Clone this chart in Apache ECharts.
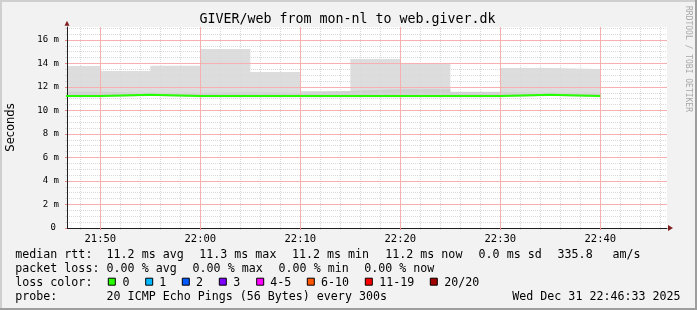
<!DOCTYPE html>
<html><head><meta charset="utf-8">
<script src="https://cdn.jsdelivr.net/npm/echarts@6/dist/echarts.min.js"></script>
<style>html,body{margin:0;padding:0;background:#f2f2f2}#c{width:697px;height:310px}</style>
</head><body><div id="c"></div>
<script>
// ---- data ----
const slotStarts = ['21:45','21:50','21:55','22:00','22:05','22:10','22:15','22:20','22:25','22:30','22:35'];
const slotEnd = '22:40';
const medianRtt = [11.22, 11.34, 11.22, 11.22, 11.22, 11.22, 11.22, 11.22, 11.22, 11.34, 11.22];
const smokeMin  = [11.12, 11.22, 11.12, 11.12, 11.12, 11.12, 11.12, 11.12, 11.12, 11.22, 11.12];
const smokeMid  = [11.60, 11.50, 11.50, 11.55, 11.50, 11.66, 11.83, 11.83, 11.58, 11.50, 11.50];
const smokeMax  = [13.79, 13.36, 13.80, 15.23, 13.28, 11.66, 14.38, 14.04, 11.60, 13.62, 13.53];
const viewStart = '21:46:40';
const viewEnd = '22:46:40';
const xTickLabels = ['21:50','22:00','22:10','22:20','22:30','22:40'];
const yMax = 17.1;
const title = 'GIVER/web from mon-nl to web.giver.dk';
const rttStats = ['11.2 ms avg','11.3 ms max','11.2 ms min','11.2 ms now','0.0 ms sd','335.8','am/s'];
const lossStats = ['0.00 % avg','0.00 % max','0.00 % min','0.00 % now'];
const lossLabels = ['0','1','2','3','4-5','6-10','11-19','20/20'];
const lossColors = ['#26ff00','#00b8ff','#0059ff','#7e00ff','#ff00ff','#ff5500','#ff0000','#a10000'];
const probeText = '20 ICMP Echo Pings (56 Bytes) every 300s';
const dateText = 'Wed Dec 31 22:46:33 2025';

// ---- helpers ----
function toMin(s){const p=s.split(':').map(Number);return p[0]*60+p[1]+(p[2]||0)/60;}
function fmt(v){const m=Math.round(v);const h=Math.floor(m/60),mm=m%60;return (h<10?'0':'')+h+':'+(mm<10?'0':'')+mm;}
function stepData(vals){const d=slotStarts.map((t,i)=>[toMin(t),vals[i]]);d.push([toMin(slotEnd),vals[vals.length-1]]);return d;}
const xMin=toMin(viewStart), xMax=toMin(viewEnd);
const majorX = xTickLabels.map(toMin);
const minorX = [];
for(let m=Math.ceil(xMin/2)*2;m<=xMax;m+=2){ if(m%10!==0) minorX.push(m); }
const majorY=[], minorY=[];
for(let k=0;k*0.5<yMax;k++){ const v=k*0.5; if(k%4===0) majorY.push(v); else minorY.push(v); }

const MONO='DejaVu Sans Mono';
const gridCol='#d9d9d9', mgridCol='#f6b0b0', mtickCol='#ee8888';
const chart=echarts.init(document.getElementById('c'));

const graphics=[];
// frame shading
graphics.push({type:'rect',shape:{x:0,y:0,width:697,height:2},style:{fill:'#cfcfcf'},silent:true});
graphics.push({type:'rect',shape:{x:0,y:0,width:2,height:310},style:{fill:'#cfcfcf'},silent:true});
graphics.push({type:'rect',shape:{x:695,y:0,width:2,height:310},style:{fill:'#9e9e9e'},silent:true});
graphics.push({type:'rect',shape:{x:0,y:308,width:697,height:2},style:{fill:'#9e9e9e'},silent:true});
graphics.push({type:'text',x:347.5,y:20,style:{text:title,font:'13.3px "DejaVu Sans Mono"',fill:'#000',align:'center',verticalAlign:'middle'}});
graphics.push({type:'text',x:688,y:59,rotation:-Math.PI/2,style:{text:'RRDTOOL / TOBI OETIKER',font:'8px "DejaVu Sans Mono"',fill:'#a8a8a8',align:'center',verticalAlign:'middle'}});
const LF='11.65px "DejaVu Sans Mono"';
function txt(s,x,y,align){graphics.push({type:'text',x:x,y:y,style:{text:s,font:LF,fill:'#000',align:align||'left',verticalAlign:'middle'}});}
const rowY=[255,268.8,282.7,296.5];
txt('median rtt:',15.3,rowY[0]);
const rttX=[106.6,199.3,292,385.3,478.6,557.6,612.6];
rttStats.forEach((s,i)=>txt(s,rttX[i],rowY[0]));
txt('packet loss:',15.3,rowY[1]);
const lossX=[106.6,192.6,278.6,364.3];
lossStats.forEach((s,i)=>txt(s,lossX[i],rowY[1]));
txt('loss color:',15.3,rowY[2]);
const sqX=[108.3,145.7,182.3,219.3,256.7,307.3,365.3,430.3];
const lblX=[122.6,159.3,196,233.3,270.3,321,379.3,444.3];
lossLabels.forEach((s,i)=>{
  graphics.push({type:'rect',shape:{x:sqX[i],y:278.2,width:7,height:7},style:{fill:lossColors[i],stroke:'#000',lineWidth:1}});
  txt(s,lblX[i],rowY[2]);
});
txt('probe:',15.3,rowY[3]);
txt(probeText,106.6,rowY[3]);
txt(dateText,680.5,rowY[3],'right');

const smokeCommon={type:'line',step:'end',symbol:'none',showSymbol:false,lineStyle:{width:0,opacity:0},z:1,silent:true,xAxisIndex:0,yAxisIndex:0};

chart.setOption({
  animation:false,
  backgroundColor:'#f2f2f2',
  grid:{left:67,top:27,width:600,height:201,show:true,backgroundColor:'#ffffff',borderWidth:0,containLabel:false,outerBoundsMode:'none'},
  xAxis:[
    {type:'value',min:xMin,max:xMax,z:3,position:'bottom',
     axisLine:{show:true,lineStyle:{color:'#1f1f1f',width:1}},
     axisTick:{show:true,customValues:majorX,length:2,lineStyle:{color:mtickCol}},
     axisLabel:{show:true,customValues:majorX,formatter:fmt,fontFamily:MONO,fontSize:10.5,color:'#000',margin:6},
     splitLine:{show:true,lineStyle:{color:mgridCol,type:'solid',width:1}}},
    {type:'value',min:xMin,max:xMax,z:2,position:'bottom',
     axisLine:{show:false},axisLabel:{show:false},
     axisTick:{show:true,customValues:minorX,length:2,lineStyle:{color:gridCol}},
     splitLine:{show:true,lineStyle:{color:gridCol,type:[1,1],width:1}}},
    {type:'value',min:xMin,max:xMax,z:4,position:'bottom',
     axisLabel:{show:false},axisTick:{show:false},splitLine:{show:false},
     axisLine:{show:true,symbol:['none','triangle'],symbolSize:[6,5],symbolOffset:[0,3.5],lineStyle:{color:'#801f1f',width:0}}}
  ],
  yAxis:[
    {type:'value',min:0,max:yMax,z:3,position:'left',
     name:'Seconds',nameLocation:'middle',nameRotate:90,nameGap:50,
     nameTextStyle:{fontFamily:'DejaVu Sans',fontSize:11.5,color:'#000'},
     axisLine:{show:true,lineStyle:{color:'#1f1f1f',width:1}},
     axisTick:{show:true,customValues:majorY,length:2,lineStyle:{color:mtickCol}},
     axisLabel:{customValues:majorY,fontFamily:MONO,fontSize:9,color:'#000',margin:8,
       formatter:v=>v===0?'{z|0}':v+' m',
       rich:{z:{fontFamily:MONO,fontSize:9,color:'#000',padding:[0,3,0,0]}}},
     splitLine:{show:true,showMinLine:false,lineStyle:{color:mgridCol,type:'solid',width:1}}},
    {type:'value',min:0,max:yMax,z:2,position:'left',
     axisLine:{show:false},axisLabel:{show:false},
     axisTick:{show:true,customValues:minorY,length:2,lineStyle:{color:gridCol}},
     splitLine:{show:true,lineStyle:{color:gridCol,type:[1,1],width:1}}},
    {type:'value',min:0,max:yMax,z:4,position:'left',
     axisLabel:{show:false},axisTick:{show:false},splitLine:{show:false},
     axisLine:{show:true,symbol:['none','triangle'],symbolSize:[5,5],symbolOffset:[0,3.7],lineStyle:{color:'#801f1f',width:0}}}
  ],
  series:[
    Object.assign({},smokeCommon,{name:'smokeMax',data:stepData(smokeMax),areaStyle:{color:'#dddddd',opacity:1}}),
    Object.assign({},smokeCommon,{name:'smokeMid',data:stepData(smokeMid),areaStyle:{color:'#d0d0d0',opacity:1}}),
    Object.assign({},smokeCommon,{name:'smokeMin',data:stepData(smokeMin),areaStyle:{color:'#ffffff',opacity:1}}),
    {type:'line',name:'median',step:'end',symbol:'none',showSymbol:false,z:5,silent:true,
     data:stepData(medianRtt),lineStyle:{color:'#26ff00',width:2}}
  ],
  graphic:graphics
});
</script></body></html>
